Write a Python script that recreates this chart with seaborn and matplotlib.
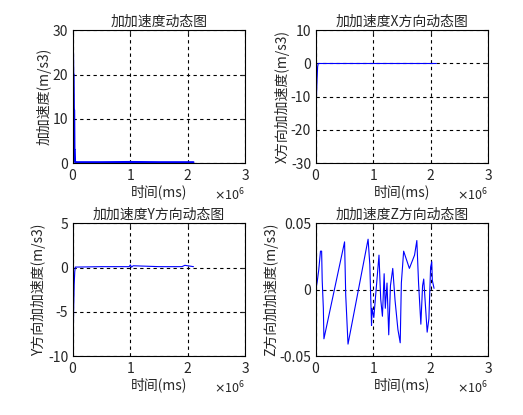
import numpy as np
import pandas as pd
import matplotlib
matplotlib.use("Agg")
import matplotlib.pyplot as plt
import seaborn as sns
from matplotlib.ticker import ScalarFormatter

sns.set_style("white")
plt.rcParams['font.family'] = ['Noto Sans CJK SC', 'DejaVu Sans']
plt.rcParams['axes.unicode_minus'] = False

# time in units of 1e6 ms
t_total = [0, 0.005, 0.01, 0.015, 0.02, 0.025, 0.03, 0.035, 0.04, 0.5, 1.0, 1.5, 2.1]
j_total = [25, 20, 20, 12, 12, 3, 3, 0.3, 0.2, 0.2, 0.25, 0.2, 0.2]
t_x = [0, 0.005, 0.01, 0.02, 0.03, 0.04, 0.5, 1.0, 1.5, 2.1]
j_x = [0, -17, -10, -5, -1, 0, 0, 0, 0, 0]
t_y = [0, 0.005, 0.01, 0.02, 0.03, 0.04, 0.5, 0.98, 1.0, 1.02, 1.05, 1.5, 1.9, 1.95, 2.1]
j_y = [0, -8, -5, -2, -0.5, 0.05, 0.1, 0.1, 0.3, 0.05, 0.2, 0.1, 0.1, 0.25, 0.1]
t_z = [0, 0.023, 0.05, 0.08, 0.1, 0.11, 0.13, 0.14, 0.5, 0.52, 0.56, 0.91, 0.94, 0.97, 0.98, 1.01,
       1.10, 1.13, 1.16, 1.19, 1.21, 1.24, 1.27, 1.30, 1.34, 1.38, 1.43, 1.47, 1.49, 1.53, 1.63,
       1.72, 1.76, 1.79, 1.83, 1.86, 1.88, 1.91, 1.94, 1.97, 2.0, 2.02, 2.03, 2.06]
j_z = [0, 0.006, 0.015, 0.029, 0.029, 0.007, -0.014, -0.037, 0.036, -0.004, -0.041, 0.038, 0.019,
       -0.027, -0.014, -0.021, 0.026, -0.007, -0.02, 0.012, -0.014, 0.005, -0.034, 0.003, 0.016,
       -0.008, -0.030, -0.040, 0.005, 0.029, 0.016, 0.026, 0.037, 0.005, -0.026, 0.003, 0.008,
       -0.012, -0.032, -0.022, 0.017, 0.021, 0.007, 0.001]

titles = ["加加速度动态图", "加加速度X方向动态图", "加加速度Y方向动态图", "加加速度Z方向动态图"]
ylabels = ["加加速度(m/s3)", "X方向加加速度(m/s3)", "Y方向加加速度(m/s3)", "Z方向加加速度(m/s3)"]
ylims = [(0, 30), (-30, 10), (-10, 5), (-0.05, 0.05)]
yticks = [[0, 10, 20, 30], [-30, -20, -10, 0, 10], [-10, -5, 0, 5], [-0.05, 0, 0.05]]
series = [(t_total, j_total), (t_x, j_x), (t_y, j_y), (t_z, j_z)]
widths = [1.5, 0.8, 0.8, 0.8]

fig = plt.figure(figsize=(5.23, 4.15), dpi=100)
rects = [[0.1396, 0.607, 0.329, 0.32], [0.604, 0.607, 0.329, 0.32],
         [0.1396, 0.142, 0.329, 0.32], [0.604, 0.142, 0.329, 0.32]]
for i in range(4):
    ax = fig.add_axes(rects[i])
    t, j = series[i]
    df = pd.DataFrame({"t": np.array(t) * 1e6, "j": j})
    sns.lineplot(data=df, x="t", y="j", ax=ax, color="blue", lw=widths[i],
                 sort=False, estimator=None)
    ax.set_xlim(0, 3e6)
    ax.set_ylim(*ylims[i])
    ax.set_xticks([0, 1e6, 2e6, 3e6])
    ax.set_yticks(yticks[i])
    if i == 3:
        ax.set_yticklabels(["-0.05", "0", "0.05"])
    fmt = ScalarFormatter(useMathText=True)
    fmt.set_powerlimits((0, 0))
    ax.xaxis.set_major_formatter(fmt)
    ax.xaxis.get_offset_text().set_fontsize(9)
    ax.grid(True, color="black", ls=(0, (3, 3)), lw=0.8)
    ax.tick_params(direction="in", labelsize=10, top=True, right=True, length=3)
    for s in ax.spines.values():
        s.set_color("black")
        s.set_linewidth(0.8)
    ax.set_title(titles[i], fontsize=10, pad=3)
    ax.set_xlabel("时间(ms)", fontsize=10, labelpad=1)
    ax.set_ylabel(ylabels[i], fontsize=10, labelpad=1)

fig.savefig("out.png", dpi=100)
